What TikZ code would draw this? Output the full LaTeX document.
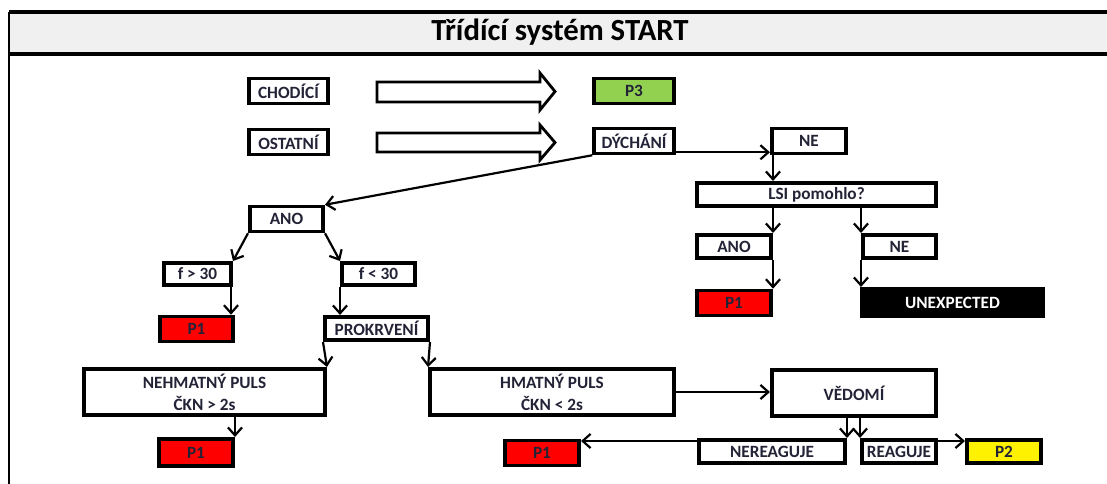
\documentclass[tikz,border=0pt]{standalone}
\usepackage{fontspec}
\setmainfont{Carlito}
\usetikzlibrary{arrows.meta}
\definecolor{okgreen}{RGB}{146,208,80}
\definecolor{boxtext}{RGB}{35,35,55}
\definecolor{titlegray}{RGB}{240,240,240}
\begin{document}
\begin{tikzpicture}[x=0.02cm,y=-0.02cm,
  >={Straight Barb[length=4.5pt,width=8pt]},
  box/.style={draw,line width=2pt,fill=white,inner sep=0pt,minimum height=0.5cm,
    text=boxtext,font=\fontsize{9.8}{12.5}\selectfont\bfseries,align=center},
  link/.style={->,line width=1.25pt},
  hollow/.style={draw,line width=1.6pt,fill=white,line join=miter}]
  \useasboundingbox (0,0) rectangle (1107,484);
  \fill[titlegray] (9,12) rectangle (1107,54);
  \draw[line width=2pt] (9,12) -- (1107,12);
  \draw[line width=2.2pt] (9,54) -- (1107,54);
  \draw[line width=1.5pt] (9,12) -- (9,484);
  \node (title) at (560,32) {\fontsize{17.5}{20}\selectfont\bfseries Třídící systém START};

  \node[box,minimum width=1.59cm] (chodici) at (288.5,91) {CHODÍCÍ};
  \node[box,minimum width=1.59cm] (ostatni) at (288.5,142) {OSTATNÍ};
  \node[box,minimum width=1.6cm,fill=okgreen] (pthree) at (634,91) {P3};
  \node[box,minimum width=1.6cm] (dychani) at (634,141) {DÝCHÁNÍ};
  \draw[hollow] (377,82) -- (540,82) -- (540,73) -- (555,91.5) -- (540,110) -- (540,102) -- (377,102) -- cycle;
  \draw[hollow] (377,133) -- (540,133) -- (540,125) -- (555,142.5) -- (540,160) -- (540,152) -- (377,152) -- cycle;

  \node[box,minimum width=1.49cm] (ne) at (809,141) {NE};
  \node[box,minimum width=4.79cm,minimum height=0.47cm] (lsi) at (816.5,194.5) {LSI pomohlo?};
  \node[box,minimum width=1.49cm,minimum height=0.47cm] (lsiano) at (734,246.5) {ANO};
  \node[box,minimum width=1.47cm,minimum height=0.47cm] (lsine) at (899.5,246.5) {NE};
  \node[box,minimum width=1.49cm,fill=red] (pone) at (734,303) {P1};
  \node[box,minimum width=3.63cm,minimum height=0.55cm,fill=black,text=white] (unexpected) at (952.5,302.5) {UNEXPECTED};

  \node[box,minimum width=1.47cm] (ano) at (286.5,219) {ANO};
  \node[box,minimum width=1.35cm,minimum height=0.45cm] (fgt) at (197.5,274) {f > 30};
  \node[box,minimum width=1.47cm,minimum height=0.45cm] (flt) at (378.5,274) {f < 30};
  \node[box,minimum width=1.47cm,fill=red] (ponea) at (196.5,329) {P1};
  \node[box,minimum width=2.07cm,minimum height=0.47cm] (prokrveni) at (376.5,328.5) {PROKRVENÍ};
  \node[box,minimum width=4.83cm,minimum height=0.93cm] (nehmatny) at (204.5,392) {NEHMATNÝ PULS\\ČKN > 2s};
  \node[box,minimum width=4.89cm,minimum height=0.93cm] (hmatny) at (552,392) {HMATNÝ PULS\\ČKN < 2s};
  \node[box,minimum width=3.29cm,minimum height=0.93cm] (vedomi) at (854,393) {VĚDOMÍ};
  \node[box,minimum width=1.49cm,minimum height=0.55cm,fill=red] (poneb) at (196,452.5) {P1};
  \node[box,minimum width=1.49cm,fill=red] (ponec) at (542,453) {P1};
  \node[box,minimum width=2.93cm,minimum height=0.47cm] (nereaguje) at (772,451.5) {NEREAGUJE};
  \node[box,minimum width=1.49cm,minimum height=0.47cm] (reaguje) at (899,451.5) {REAGUJE};
  \node[box,minimum width=1.49cm,minimum height=0.47cm,fill=yellow] (ptwo) at (1004,451.5) {P2};

  \draw[link] ([yshift=0.06cm]dychani.south east) -- ([yshift=0.06cm]ne.south west);
  \draw[link] ([xshift=0.06cm]ne.south west) -- ([xshift=0.06cm]ne.south west |- lsi.north);
  \draw[link] (dychani.south west) -- (ano.north east);
  \draw[link] (lsi.south -| lsiano.east) -- (lsiano.north east);
  \draw[link] (lsi.south -| lsine.west) -- (lsine.north west);
  \draw[link] (lsiano.south east) -- (lsiano.south east |- pone.north);
  \draw[link] (lsine.south west) -- (lsine.south west |- unexpected.north);
  \draw[link] (ano.south west) -- (fgt.north east);
  \draw[link] (ano.south east) -- (flt.north west);
  \draw[link] ([xshift=-0.04cm]fgt.south east) -- ([xshift=-0.04cm]fgt.south east |- ponea.north);
  \draw[link] (flt.south west) -- (flt.south west |- prokrveni.north);
  \draw[link] (prokrveni.south west) -- (nehmatny.north east);
  \draw[link] (prokrveni.south east) -- (hmatny.north west);
  \draw[link] (nehmatny.south -| poneb.east) -- (poneb.north east);
  \draw[link] (hmatny.east) -- (hmatny.east -| vedomi.west);
  \draw[link] (vedomi.south -| nereaguje.east) -- (nereaguje.north east);
  \draw[link] (vedomi.south -| reaguje.west) -- (reaguje.north west);
  \draw[link] ([yshift=-0.06cm]reaguje.north east) -- ([yshift=-0.06cm]reaguje.north east -| ptwo.west);
  \draw[link] ([yshift=-0.06cm]nereaguje.north west) -- ([yshift=-0.06cm]nereaguje.north west -| ponec.east);
\end{tikzpicture}
\end{document}
